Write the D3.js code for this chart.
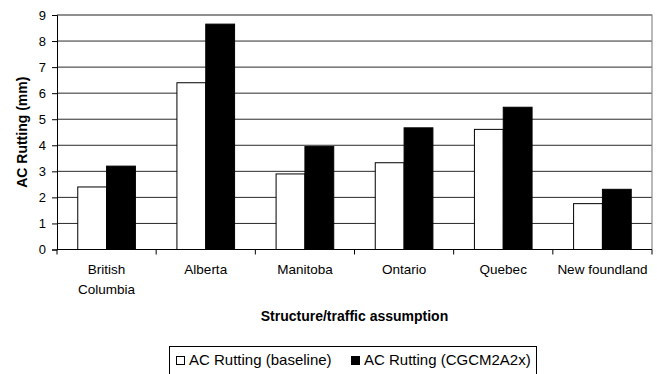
<!DOCTYPE html>
<html>
<head>
<meta charset="utf-8">
<script src="https://cdn.jsdelivr.net/npm/d3@7"></script>
<style>
  html, body { margin: 0; padding: 0; background: #fff; }
  svg { display: block; font-family: "Liberation Sans", Arial, sans-serif; }
</style>
</head>
<body>
<svg id="chart" width="657" height="374"></svg>
<script>
// Provinces on the x axis (multi-line labels split on "\n")
const categories = ["British\nColumbia", "Alberta", "Manitoba", "Ontario", "Quebec", "New foundland"];
// AC rutting depth in mm
const baseline = [2.4, 6.4, 2.9, 3.33, 4.61, 1.76];
const cgcm2a2x = [3.2, 8.65, 3.95, 4.67, 5.46, 2.31];
const seriesNames = ["AC Rutting (baseline)", "AC Rutting (CGCM2A2x)"];
const seriesFill = ["#ffffff", "#000000"];
const yTicks = [0, 1, 2, 3, 4, 5, 6, 7, 8, 9];

const svg = d3.select("#chart");
const plot = { left: 57, right: 652, top: 15, bottom: 249.5 };

const x0 = d3.scaleBand().domain(categories).range([plot.left, plot.right]).paddingInner(0).paddingOuter(0);
const x1 = d3.scaleBand().domain(seriesNames).range([0, x0.bandwidth()]).paddingInner(0).paddingOuter(0.72);
const y = d3.scaleLinear().domain([0, 9]).range([plot.bottom, plot.top]);

// horizontal gridlines
svg.append("g")
  .selectAll("line")
  .data(yTicks.slice(1))
  .join("line")
  .attr("x1", plot.left).attr("x2", plot.right)
  .attr("y1", d => y(d)).attr("y2", d => y(d))
  .attr("stroke", "#2a2a2a").attr("stroke-width", 1);

// plot frame (top and right)
svg.append("path")
  .attr("d", `M${plot.left},${plot.top}H${plot.right}V${plot.bottom}`)
  .attr("fill", "none").attr("stroke", "#8a8a8a").attr("stroke-width", 1.2);

// bars
const rows = categories.map((c, i) => ({ cat: c, vals: [baseline[i], cgcm2a2x[i]] }));
const groups = svg.append("g").selectAll("g")
  .data(rows).join("g")
  .attr("transform", d => `translate(${x0(d.cat)},0)`);
groups.selectAll("rect")
  .data(d => d.vals.map((v, k) => ({ v, k })))
  .join("rect")
  .attr("x", d => x1(seriesNames[d.k]))
  .attr("width", x1.bandwidth())
  .attr("y", d => y(d.v))
  .attr("height", d => y(0) - y(d.v))
  .attr("fill", d => seriesFill[d.k])
  .attr("stroke", "#000").attr("stroke-width", 1);

// y axis
const yAxis = svg.append("g")
  .attr("transform", `translate(${plot.left},0)`)
  .call(d3.axisLeft(y).tickValues(yTicks).tickSize(5).tickPadding(6).tickFormat(d3.format("d")));
yAxis.select(".domain").attr("stroke", "#000");
yAxis.selectAll(".tick line").attr("stroke", "#000");
yAxis.selectAll("text").attr("font-size", 13).attr("fill", "#000").attr("font-family", "Liberation Sans, Arial, sans-serif");

// x axis with ticks at category boundaries
const xAxisG = svg.append("g").attr("transform", `translate(0,${plot.bottom})`);
xAxisG.append("line").attr("x1", plot.left).attr("x2", plot.right).attr("stroke", "#000");
const boundaries = categories.map(c => x0(c)).concat([plot.right]);
xAxisG.selectAll("line.tk").data(boundaries).join("line").attr("class", "tk")
  .attr("x1", d => d).attr("x2", d => d).attr("y1", 0).attr("y2", 5).attr("stroke", "#000");
const catLabels = xAxisG.selectAll("text.cat").data(categories).join("text").attr("class", "cat")
  .attr("x", d => x0(d) + x0.bandwidth() / 2)
  .attr("y", 24)
  .attr("text-anchor", "middle")
  .attr("font-size", 13.5)
  .attr("fill", "#000");
catLabels.each(function (d) {
  const t = d3.select(this);
  d.split("\n").forEach((line, i) => {
    t.append("tspan").attr("x", x0(d) + x0.bandwidth() / 2).attr("dy", i === 0 ? 0 : 20).text(line);
  });
});

// axis titles
svg.append("text")
  .attr("transform", `translate(27,${(plot.top + plot.bottom) / 2}) rotate(-90)`)
  .attr("text-anchor", "middle")
  .attr("font-size", 14).attr("font-weight", "bold")
  .text("AC Rutting (mm)");
svg.append("text")
  .attr("x", (plot.left + plot.right) / 2).attr("y", 321)
  .attr("text-anchor", "middle")
  .attr("font-size", 14).attr("font-weight", "bold")
  .text("Structure/traffic assumption");

// legend
const legend = svg.append("g");
legend.append("rect").attr("x", 169.5).attr("y", 346.5).attr("width", 367).attr("height", 30)
  .attr("fill", "#fff").attr("stroke", "#000").attr("stroke-width", 1);
const legendX = [176, 351];
seriesNames.forEach((name, k) => {
  legend.append("rect").attr("x", legendX[k] + 0.5).attr("y", 356.5).attr("width", 8).attr("height", 8)
    .attr("fill", seriesFill[k]).attr("stroke", "#000");
  legend.append("text").attr("x", legendX[k] + 13).attr("y", 365)
    .attr("font-size", 15).attr("fill", "#000").text(name);
});
</script>
</body>
</html>
